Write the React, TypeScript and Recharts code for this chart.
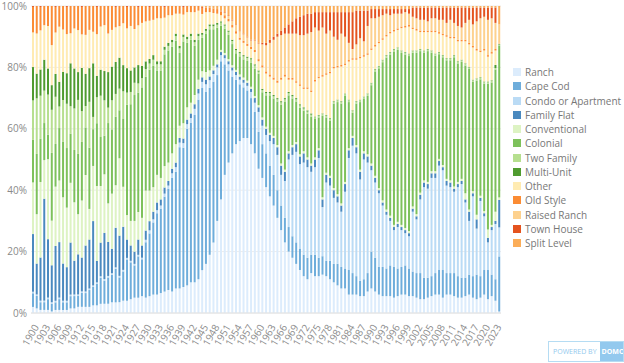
import { BarChart, Bar, XAxis, YAxis, CartesianGrid } from "recharts";

const years = [
  1900, 1901, 1902, 1903, 1904, 1905, 1906, 1907, 1908, 1909,
  1910, 1911, 1912, 1913, 1914, 1915, 1916, 1917, 1918, 1919,
  1920, 1921, 1922, 1923, 1924, 1925, 1926, 1927, 1928, 1929,
  1930, 1931, 1932, 1933, 1934, 1935, 1936, 1937, 1938, 1939,
  1940, 1941, 1942, 1943, 1944, 1945, 1946, 1947, 1948, 1949,
  1950, 1951, 1952, 1953, 1954, 1955, 1956, 1957, 1958, 1959,
  1960, 1961, 1962, 1963, 1964, 1965, 1966, 1967, 1968, 1969,
  1970, 1971, 1972, 1973, 1974, 1975, 1976, 1977, 1978, 1979,
  1980, 1981, 1982, 1983, 1984, 1985, 1986, 1987, 1988, 1989,
  1990, 1991, 1992, 1993, 1994, 1995, 1996, 1997, 1998, 1999,
  2000, 2001, 2002, 2003, 2004, 2005, 2006, 2007, 2008, 2009,
  2010, 2011, 2012, 2013, 2014, 2015, 2016, 2017, 2018, 2019,
  2020, 2021, 2022, 2023, 2024,
];

// shares per year (the chart is normalised to 100%)
const ranch = [
  2, 1.5, 1, 1, 1, 0.5, 1, 1, 1, 1, 1.5, 1.5, 2, 2, 2, 2, 2.5, 2.5, 3, 3, 3, 3.5, 3.5, 3.5, 4,
  4, 4.5, 5, 5, 5.5, 5, 5.5, 6, 6, 6.5, 7, 7.5, 7, 8, 8, 8.5, 9, 10, 10, 11, 14, 16, 19, 23, 30,
  37, 45, 49, 52, 55, 56, 57, 57, 55, 52, 47, 44, 41, 38, 35, 31, 27, 23, 20, 18, 16, 14, 12, 11, 13,
  12, 12, 12.5, 12, 11, 10, 9, 8, 8, 6, 6, 6, 5.5, 5.5, 7, 8, 7, 6, 5.5, 5.5, 5.5, 5, 5.5, 6, 6, 5.5,
  5.5, 5, 4.5, 4.5, 5, 5.5, 6, 6, 5, 6, 6, 5.5, 5, 5, 5.5, 6, 5, 4.5, 5, 6, 4.5, 5.5, 4, 0.5,
];
const capeCod = [
  4.5, 4, 2.5, 2.5, 3.5, 2.5, 2.5, 3.5, 2.5, 2.5, 4, 4, 3.5, 4.5, 4.5, 5.5, 6, 7, 8.5, 7.5, 8.5, 9, 11, 8, 9.5,
  13.5, 12, 10.5, 13.5, 12, 18, 20.5, 23.5, 26.5, 27.5, 31, 33, 37, 38, 46, 45.5, 51, 52, 54.5, 58.5, 59.5, 56, 54.5, 52.5, 47.5,
  45, 36, 30, 25, 21, 18.5, 16.5, 15.5, 15, 13.5, 12, 11, 11, 10, 10, 9, 8, 8, 8, 7, 7, 7, 7, 7, 6,
  7, 6, 6, 5, 6, 6, 7, 7, 6.5, 8, 7, 6, 5, 5.5, 6, 12, 11, 9, 9.5, 9, 10, 10, 9, 9, 9.5, 9,
  8, 8, 8.5, 7, 6.5, 6.5, 7, 8, 9, 7, 7, 7.5, 7, 6.5, 6, 6.5, 7, 8, 7, 8, 9.5, 7, 7, 18,
];
const condo = [
  0.5, 0.5, 0.5, 0.5, 0.5, 0.5, 0.5, 0.5, 0.5, 0.5, 0.5, 0.5, 0.5, 0.5, 0.5, 0.5, 0.5, 0.5, 0.5, 0.5, 0.5, 0.5, 0.5, 0.5, 0.5,
  0.5, 0.5, 0.5, 0.5, 0.5, 0.8, 1, 1, 1, 1, 1, 1, 1.5, 1.5, 1.5, 1.5, 1.5, 1.5, 2, 2, 2, 2.5, 2.5, 2.5, 2.5,
  2, 2, 2, 2, 1.5, 1.5, 1.5, 1.5, 2, 3, 6.5, 6, 6, 8, 10, 11.5, 10, 12, 22, 26.5, 29.5, 27.5, 30, 29.5, 27,
  28.5, 32.5, 16, 25.5, 24.5, 21.5, 20, 18, 25, 36.5, 41.5, 40, 33, 39, 36, 26.5, 24.5, 24, 20, 17.5, 14.5, 12, 13.5, 12, 10.5, 10.5,
  19.5, 17.5, 24, 29.5, 29, 32, 31, 34, 32.5, 28.5, 28, 26.5, 29, 30.5, 24.5, 17.5, 26, 15, 24.5, 17.5, 9, 14.5, 18, 9.5,
];
const familyFlat = [
  19, 10, 14, 33, 19, 12, 18, 18, 12, 11, 17, 11, 13, 11, 15, 16, 21, 7, 11, 15, 11, 8, 13, 13, 14,
  6, 5, 4, 5, 4, 3, 3, 2.5, 2.5, 2, 2, 1.5, 1.5, 1.5, 1.5, 1.5, 1.5, 1.5, 1.5, 1.5, 1.5, 1.5, 1.2, 1.2, 1,
  1, 1, 1, 1, 1, 1, 1, 1, 1, 1.5, 1.5, 2, 2, 2, 2, 2.5, 3, 3, 2, 2.5, 2.5, 2.5, 3, 2.5, 2,
  2.5, 2.5, 2.5, 2.5, 2.5, 2.5, 2, 2, 2.5, 2.5, 2.5, 2, 2.5, 2, 2, 1.5, 1.5, 1, 1, 1, 1, 1, 1, 1, 1, 1,
  1, 1, 1.5, 1.5, 1.5, 1.5, 1.5, 1.5, 1, 1.5, 1.5, 1, 1, 1, 1, 3, 1, 3, 1, 1, 1.5, 1, 1, 9,
];
const conventional = [
  17, 16, 24.5, 12.5, 26, 14.5, 19.5, 20, 21.5, 19.5, 19.5, 19, 13, 18.5, 23, 10, 18, 24.5, 18.5, 19, 12.5, 18, 14, 25, 13,
  8, 8, 10, 9, 9, 13, 10, 8, 9, 7, 7, 6, 5, 6, 4, 5, 4, 3.5, 3, 3, 2, 2.5, 2, 1.5, 1.5,
  0.7, 0.7, 0.7, 0.7, 0.7, 0.7, 0.7, 0.7, 0.7, 0.7, 0.7, 0.7, 0.7, 0.7, 0.7, 0.7, 0.7, 0.7, 0.7, 0.7, 0.7, 0.7, 0.7, 0.7, 0.7,
  0.7, 0.7, 0.7, 0.7, 0.7, 0.7, 0.7, 0.7, 0.7, 0.7, 0.7, 0.7, 0.7, 0.7, 0.7, 0.7, 0.7, 0.7, 0.7, 0.7, 0.7, 0.7, 0.7, 0.7, 0.7, 0.7,
  0.7, 0.7, 0.7, 0.7, 0.7, 0.7, 0.7, 0.7, 0.7, 0.7, 0.7, 0.7, 0.7, 0.7, 2, 0.7, 0.7, 1.5, 0.7, 0.7, 2.7, 0.7, 3, 0.8,
];
const colonial = [
  14, 19.5, 14, 12, 8, 22, 14, 17, 18, 19.5, 16, 17, 19.5, 19, 15.5, 20, 12, 20.5, 16, 12.5, 26, 21, 22.5, 15.5, 22,
  36, 38, 41, 39, 42.5, 37, 39.5, 39.5, 34, 35, 36.5, 36.5, 34.7, 33.7, 23.7, 26.7, 21, 20.5, 16, 13, 10.9, 12.4, 13.4, 11.9, 10.4,
  7.9, 7.9, 7.9, 6.9, 5.4, 5.9, 5.9, 6.4, 7.9, 8.9, 10.2, 8.2, 10.2, 12.2, 12.2, 14.2, 19.2, 22.2, 18.2, 15.2, 13.2, 15.2, 13.2, 14.2, 15.2,
  12.5, 10, 26.5, 18, 18, 27.5, 30, 32.5, 28, 15, 7.5, 13.5, 22, 17, 19, 25.5, 34, 39, 45, 49.5, 52.5, 56.5, 56, 56, 56.5, 57,
  50.1, 52.6, 46.1, 41.6, 42.6, 38.6, 37.6, 34.1, 35.1, 38.6, 39.1, 42.1, 38.6, 38.1, 41.6, 45.8, 35.6, 43.7, 37.9, 41.5, 47.5, 46.4, 46.3, 49.7,
];
const twoFamily = [
  13, 18, 14, 10.5, 13, 14, 15.5, 7, 13.5, 14.5, 9, 13.5, 17.5, 10, 7, 15, 4, 8.5, 13.5, 11.5, 5, 9.5, 7.5, 7, 9,
  4, 4, 4, 3, 3, 2.5, 2, 2, 2, 2, 1.5, 1.5, 1.5, 1.5, 1.5, 1.5, 1.2, 1.2, 1.2, 1.2, 1, 1, 1, 1, 1,
  1, 1, 1, 1, 1, 1, 1, 1, 1, 1, 0.7, 0.7, 0.7, 0.7, 0.7, 0.7, 0.7, 0.7, 0.7, 0.7, 0.7, 0.7, 0.7, 0.7, 0.7,
  0.6, 0.6, 0.6, 0.6, 0.6, 0.6, 0.6, 0.6, 0.6, 0.6, 0.6, 0.6, 0.6, 0.6, 0.6, 0.6, 0.6, 0.6, 0.6, 0.6, 0.6, 0.6, 0.6, 0.6, 0.6, 0.6,
  0.5, 0.5, 0.5, 0.5, 0.5, 0.5, 0.5, 0.5, 0.5, 0.5, 0.5, 0.5, 0.5, 0.5, 0.5, 0.5, 0.5, 0.5, 0.5, 0.5, 0.5, 0.5, 0.5, 0.3,
];
const multiUnit = [
  11, 8, 8.5, 10, 8.5, 8, 7.5, 8, 9, 10, 14, 13, 9, 14, 10.5, 11, 17.5, 7, 8.5, 9.5, 11.5, 11, 10.5, 10, 8.5,
  8, 7, 5, 6, 4, 2.5, 1.5, 1.5, 1, 1, 1, 1, 0.8, 0.8, 0.8, 0.8, 0.8, 0.8, 0.8, 0.8, 0.6, 0.6, 0.6, 0.6, 0.6,
  0.4, 0.4, 0.4, 0.4, 0.4, 0.4, 0.4, 0.4, 0.4, 0.4, 0.4, 0.4, 0.4, 0.4, 0.4, 0.4, 0.4, 0.4, 0.4, 0.4, 0.4, 0.4, 0.4, 0.4, 0.4,
  0.2, 0.2, 0.2, 0.2, 0.2, 0.2, 0.2, 0.2, 0.2, 0.2, 0.2, 0.2, 0.2, 0.2, 0.2, 0.2, 0.2, 0.2, 0.2, 0.2, 0.2, 0.2, 0.2, 0.2, 0.2, 0.2,
  0.2, 0.2, 0.2, 0.2, 0.2, 0.2, 0.2, 0.2, 0.2, 0.2, 0.2, 0.2, 0.2, 0.2, 0.2, 0.2, 0.2, 0.2, 0.2, 0.2, 0.2, 0.2, 1, 0.2,
];
const other = [
  11.4, 13, 12.7, 11.2, 13.8, 13, 13.6, 17.9, 13.8, 12.8, 9.8, 13, 13.6, 10.9, 12.7, 12.5, 10.3, 13.6, 14.1, 14.9, 12.5, 12, 11.4, 10.2, 13.6,
  13, 14.5, 12.5, 13, 14, 13, 12.5, 11.5, 14, 14, 9.5, 9, 8, 6.5, 10.5, 6.5, 8, 7, 9, 7.5, 6.2, 5.5, 4, 3.7, 3,
  2, 2, 3, 4, 5, 4, 4, 3.5, 3, 4, 3, 7, 6, 5, 5, 5, 7, 7, 4, 5, 5, 6, 6, 7, 7,
  11.4, 12, 12, 13.1, 14.6, 10.7, 10.5, 11.3, 9.3, 12.4, 16.5, 13.5, 13.5, 13, 12.6, 10.7, 7.3, 7.4, 6.5, 6.1, 6.1, 5.7, 5.7, 7.3, 8, 8.8,
  7, 6.5, 5.5, 6, 5.5, 6, 7, 6, 6.5, 7, 6.5, 5.5, 6.5, 6, 7.2, 7.3, 10.5, 9.1, 8.2, 10.1, 8.1, 8.7, 4.7, 0.2,
];
const oldStyle = [
  8.4, 8.9, 7.6, 6.2, 6.5, 12.7, 8.4, 6.7, 7.6, 8.9, 8.9, 7.3, 7.8, 8.9, 9.4, 7.8, 8.4, 8.9, 6.7, 6.2, 8.9, 7.8, 6.7, 6.5, 5.6,
  7, 6.5, 7.5, 6, 5.5, 5, 4.5, 4.5, 4, 4, 3.5, 3, 3, 2.5, 2.5, 2.5, 2, 2, 2, 1.5, 2, 1.5, 1.5, 1.5, 1.5,
  1.2, 1, 0.8, 0.8, 0.8, 0.7, 0.7, 0.7, 0.7, 0.7, 0.7, 0.7, 0.7, 0.7, 0.7, 0.7, 0.7, 0.7, 0.6, 0.6, 0.5, 0.5, 0.5, 0.5, 0.5,
  0.5, 0.5, 0.5, 0.5, 0.5, 0.5, 0.5, 0.5, 0.5, 0.5, 0.5, 0.5, 0.5, 0.5, 0.5, 0.5, 0.5, 0.5, 0.5, 0.5, 0.5, 0.5, 0.5, 0.5, 0.5, 0.5,
  0.5, 0.5, 0.5, 0.5, 0.5, 0.5, 0.5, 0.5, 0.5, 0.5, 0.5, 0.5, 0.5, 0.5, 0.5, 0.5, 0.5, 0.5, 0.5, 0.5, 0.5, 0.5, 0.5, 0.2,
];
const raisedRanch = [
  0, 0, 0, 0, 0, 0, 0, 0, 0, 0, 0, 0, 0, 0, 0, 0, 0, 0, 0, 0, 0, 0, 0, 0, 0,
  0, 0, 0, 0, 0, 0, 0, 0, 0, 0, 0, 0, 0, 0, 0, 0, 0, 0, 0, 0, 0, 0, 0, 0, 0,
  0.1, 0.8, 1, 1.5, 2, 2.1, 2.1, 2.1, 2.1, 3.1, 5.1, 6.8, 8.5, 10.3, 12.3, 14.3, 13.8, 13.3, 14.4, 14.4, 15.5, 16, 17, 17.5, 19,
  17.1, 15, 15.5, 12.9, 13.4, 9.8, 8.5, 10.2, 8.7, 5.6, 3, 4.5, 6, 4.5, 8.9, 9.8, 8.7, 8.1, 7.5, 6.9, 5.4, 5.3, 4.8, 4.2, 4.5, 3.7,
  3.5, 3.5, 3.5, 3.5, 3, 4, 4, 4, 4.5, 4, 5.5, 4.5, 4.5, 4, 5.5, 7.5, 7, 9, 10.5, 10.5, 11.5, 11, 8.5, 6,
];
const townHouse = [
  0.3, 0, 0.3, 0, 0, 0, 0.3, 0, 0, 0.3, 0, 0, 0, 0.3, 0, 0, 0, 0.3, 0, 0, 0, 0, 0.3, 0, 0,
  0.3, 0, 0, 0.3, 0, 0, 0.3, 0, 0, 0, 0.3, 0, 0, 0, 0, 0.3, 0, 0, 0, 0, 0.3, 0, 0, 0, 0,
  0.2, 0.2, 0.2, 0.2, 0.2, 0.2, 0.2, 0.2, 0.2, 0.2, 0.2, 0.5, 0.8, 1, 1, 1, 1.5, 2, 3, 4, 5, 6, 6.5, 6.5, 6,
  5, 6, 5, 7, 6, 8, 9, 7, 8, 10, 12, 11, 9, 10, 5, 3, 3, 2.5, 2, 1.5, 2, 1.5, 1.5, 1.5, 1, 1.5,
  3, 3.5, 4, 4, 4.5, 3.5, 3.5, 4, 4, 5, 4, 5, 6, 6.5, 5, 4, 5.5, 4.5, 3.5, 3, 4, 3.5, 5, 0,
];
const splitLevel = [
  0, 0, 0, 0, 0, 0, 0, 0, 0, 0, 0, 0, 0, 0, 0, 0, 0, 0, 0, 0, 0, 0, 0, 0, 0,
  0, 0, 0, 0, 0, 0, 0, 0, 0, 0, 0, 0, 0, 0, 0, 0, 0, 0, 0, 0, 0.3, 0.5, 0.5, 0.8, 1,
  1.5, 2, 3, 4.5, 6, 8, 9, 10, 11, 11, 12, 12, 12, 11, 10, 9, 8, 7, 6, 5, 4, 3.5, 3, 2.5, 2.5,
  2, 2, 2, 2, 2, 2, 2, 2, 2, 2, 2, 1.5, 1.5, 1.5, 1.5, 1, 1, 1, 1, 1, 1, 1, 1, 1, 1, 1,
  0.5, 0.5, 0.5, 0.5, 0.5, 0.5, 0.5, 0.5, 0.5, 0.5, 0.5, 0.5, 0.5, 0.5, 0.5, 0.5, 0.5, 0.5, 0.5, 0.5, 0.5, 0.5, 0.5, 6,
];

const yTicks = [0, 0.2, 0.4, 0.6, 0.8, 1];

const series = [
  { key: "Ranch", values: ranch, color: "#dcecfc" },
  { key: "Cape Cod", values: capeCod, color: "#6eaddb" },
  { key: "Condo or Apartment", values: condo, color: "#badbf5" },
  { key: "Family Flat", values: familyFlat, color: "#4a89bf" },
  { key: "Conventional", values: conventional, color: "#ddf3c3" },
  { key: "Colonial", values: colonial, color: "#7dc15b" },
  { key: "Two Family", values: twoFamily, color: "#b6df8f" },
  { key: "Multi-Unit", values: multiUnit, color: "#4f9b2f" },
  { key: "Other", values: other, color: "#ffebb2" },
  { key: "Old Style", values: oldStyle, color: "#fb8c34" },
  { key: "Raised Ranch", values: raisedRanch, color: "#fdd18e" },
  { key: "Town House", values: townHouse, color: "#e4531e" },
  { key: "Split Level", values: splitLevel, color: "#fbad58" },
];

const data = years.map((year, i) => {
  const row: Record<string, number | string> = { year: String(year) };
  series.forEach((s) => {
    row[s.key] = s.values[i];
  });
  return row;
});

const FONT = "'Open Sans', 'Noto Sans', sans-serif";

function YearTick({ x, y, payload }: any) {
  return (
    <text
      x={x + 3}
      y={y + 4}
      transform={`rotate(-60 ${x + 3} ${y + 4})`}
      textAnchor="end"
      dominantBaseline="central"
      fontSize={10}
      fill="#8a8a8a"
      fontFamily={FONT}
    >
      {payload.value}
    </text>
  );
}

export default function App() {
  return (
    <div style={{ position: "relative", width: 624, height: 363, background: "#fff", fontFamily: FONT }}>
      <style>{`body{margin:0}`}</style>
      <BarChart
        width={624}
        height={363}
        data={data}
        stackOffset="expand"
        barCategoryGap="26%"
        margin={{ top: 6, right: 123, bottom: 0, left: 0 }}
      >
        <CartesianGrid vertical={false} stroke="#ececec" />
        <XAxis
          dataKey="year"
          interval={2}
          height={50}
          tickLine={false}
          axisLine={{ stroke: "#e2e2e2" }}
          tick={<YearTick />}
        />
        <YAxis
          width={31}
          ticks={yTicks}
          domain={[0, 1]}
          tickFormatter={(v) => `${Math.round(v * 100)}%`}
          axisLine={false}
          tickLine={false}
          tickSize={0}
          tickMargin={4}
          tick={{ fontSize: 10, fill: "#8a8a8a", fontFamily: FONT }}
        />
        {series.map((s) => (
          <Bar key={s.key} dataKey={s.key} stackId="a" fill={s.color} isAnimationActive={false} />
        ))}
      </BarChart>

      <div style={{ position: "absolute", left: 513, top: 65 }}>
        {series.map((s) => (
          <div key={s.key} style={{ display: "flex", alignItems: "center", height: 14.25 }}>
            <span style={{ width: 8, height: 8, background: s.color, marginRight: 4, display: "inline-block" }} />
            <span style={{ fontSize: 10, color: "#777", whiteSpace: "nowrap" }}>{s.key}</span>
          </div>
        ))}
      </div>

      <div
        style={{
          position: "absolute",
          left: 548,
          top: 341,
          width: 76,
          height: 21,
          boxSizing: "border-box",
          border: "1px solid #b5dcf3",
          display: "flex",
          alignItems: "stretch",
          fontSize: 7,
          whiteSpace: "nowrap",
          overflow: "hidden",
        }}
      >
        <span style={{ color: "#93c9ee", display: "flex", alignItems: "center", padding: "0 3px 0 4px" }}>
          POWERED BY
        </span>
        <span style={{ background: "#93c9ee", color: "#fff", display: "flex", alignItems: "center", paddingLeft: 2, flex: 1, fontWeight: 700 }}>
          DOMO
        </span>
      </div>
    </div>
  );
}
